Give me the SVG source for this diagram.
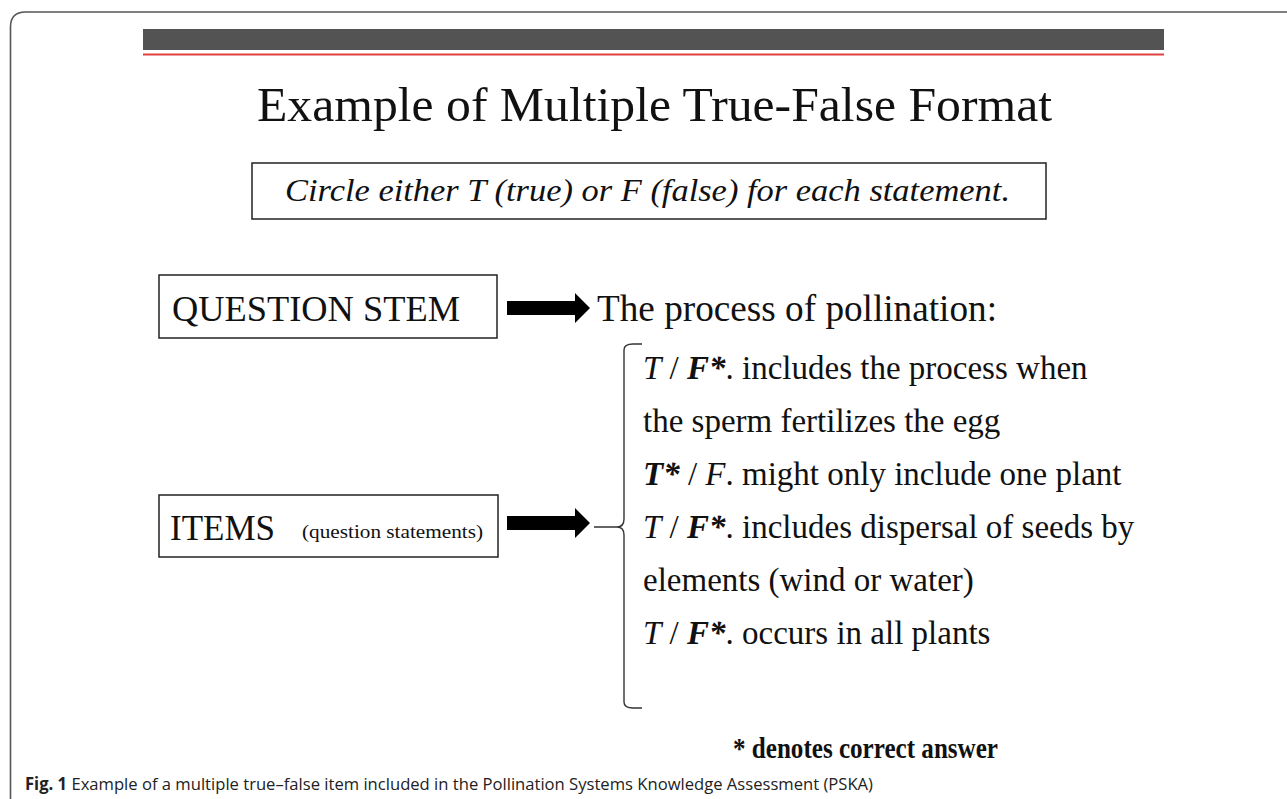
<svg xmlns="http://www.w3.org/2000/svg" width="1287" height="799" viewBox="0 0 1287 799">
<style>
.serif{font-family:"Liberation Serif","DejaVu Serif",serif;fill:#111}
.it{font-style:italic}
.bi{font-style:italic;font-weight:bold}
.box{fill:#fff;stroke:#222;stroke-width:1.5}
.arrow{fill:#000}
.st{font-size:33px}
</style>
<rect x="0" y="0" width="1287" height="799" fill="#fff"/>
<path d="M10.5 799 V27 Q10.5 12 25.5 12 H1287" fill="none" stroke="#555" stroke-width="1.6"/>
<g id="header">
<rect x="143" y="29" width="1021" height="21" fill="#535353"/>
<rect x="143" y="53.5" width="1021" height="2" fill="#e04040"/>
</g>
<g id="title">
<text class="serif" x="257" y="121" font-size="48" textLength="795" lengthAdjust="spacingAndGlyphs">Example of Multiple True-False Format</text>
</g>
<g id="instruction">
<rect class="box" x="252" y="163" width="794" height="56"/>
<text class="serif it" x="285" y="201" font-size="32" textLength="725" lengthAdjust="spacingAndGlyphs">Circle either T (true) or F (false) for each statement.</text>
</g>
<g id="question-stem">
<rect class="box" x="159" y="275" width="338" height="63"/>
<text class="serif" x="172" y="321" font-size="35" textLength="288" lengthAdjust="spacingAndGlyphs">QUESTION STEM</text>
</g>
<g id="items">
<rect class="box" x="159" y="495" width="339" height="62"/>
<text class="serif" x="170" y="540" font-size="35" textLength="105" lengthAdjust="spacingAndGlyphs">ITEMS</text>
<text class="serif" x="302" y="538" font-size="19" textLength="181" lengthAdjust="spacingAndGlyphs">(question statements)</text>
</g>
<g id="connectors">
<path class="arrow" d="M507 301 H575 V293 L590 308 L575 323 V315 H507 Z"/>
<path class="arrow" d="M507 516 H575 V508 L590 523 L575 538 V530 H507 Z"/>
<path d="M594 527 H617 Q624 527 624 519 V350 Q624 344 633 344 H642 M617 527 Q624 527 624 535 V702 Q624 708 633 708 H642" fill="none" stroke="#333" stroke-width="1.4"/>
</g>
<g id="stem-text">
<text class="serif" x="597" y="321" font-size="37" textLength="400" lengthAdjust="spacingAndGlyphs">The process of pollination:</text>
</g>
<g id="statements">
<text class="serif st" x="643" y="379"><tspan class="it">T</tspan> / <tspan class="bi">F*</tspan>. includes the process when</text>
<text class="serif st" x="643" y="432">the sperm fertilizes the egg</text>
<text class="serif st" x="643" y="485"><tspan class="bi">T*</tspan> / <tspan class="it">F</tspan>. might only include one plant</text>
<text class="serif st" x="643" y="538"><tspan class="it">T</tspan> / <tspan class="bi">F*</tspan>. includes dispersal of seeds by</text>
<text class="serif st" x="643" y="591">elements (wind or water)</text>
<text class="serif st" x="643" y="644"><tspan class="it">T</tspan> / <tspan class="bi">F*</tspan>. occurs in all plants</text>
</g>
<g id="note">
<text class="serif" x="733" y="758" font-size="29" font-weight="bold" textLength="265" lengthAdjust="spacingAndGlyphs">* denotes correct answer</text>
</g>
<g id="caption">
<text x="25" y="790" font-family="'Open Sans','Noto Sans',sans-serif" font-size="17" fill="#222" textLength="848" lengthAdjust="spacingAndGlyphs"><tspan font-weight="bold">Fig. 1</tspan>  Example of a multiple true–false item included in the Pollination Systems Knowledge Assessment (PSKA)</text>
</g>
</svg>
